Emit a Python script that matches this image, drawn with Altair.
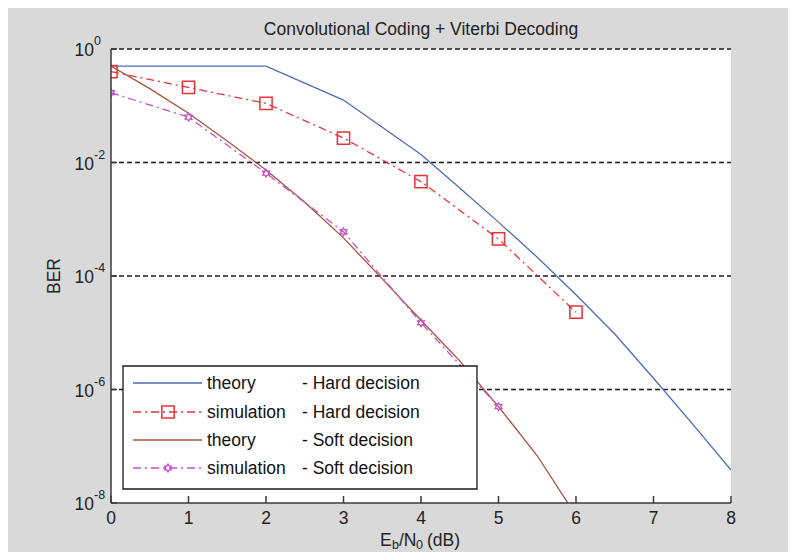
import altair as alt
import pandas as pd
import numpy as np

# ---------------- data ----------------
ebn0_theory_hard = [0, 0.5, 1, 1.5, 2, 2.5, 3, 3.5, 4, 4.5, 5, 5.5, 6, 6.5, 7, 7.5, 8]
ber_theory_hard = [0.5, 0.5, 0.5, 0.5, 0.5, 0.25, 0.126, 0.0417, 0.0138, 3.55e-3, 8.9e-4,
                   2.14e-4, 4.68e-5, 9.5e-6, 1.58e-6, 2.5e-7, 3.8e-8]

ebn0_theory_soft = [0, 0.5, 1, 1.5, 2, 2.5, 3, 3.5, 4, 4.5, 5, 5.5, 6]
ber_theory_soft = [0.5, 0.2, 0.074, 0.024, 7.4e-3, 2.0e-3, 4.7e-4, 8.9e-5, 1.66e-5,
                   3.2e-6, 5.0e-7, 6.8e-8, 6.0e-9]

ebn0_sim_hard = [0, 1, 2, 3, 4, 5, 6]
ber_sim_hard = [0.4, 0.21, 0.11, 0.027, 4.6e-3, 4.5e-4, 2.3e-5]

ebn0_sim_soft = [0, 1, 2, 3, 4, 5]
ber_sim_soft = [0.17, 0.063, 6.5e-3, 6.0e-4, 1.5e-5, 5.0e-7]

y_tick_values = [1, 1e-2, 1e-4, 1e-6, 1e-8]
y_tick_exponents = ["0", "-2", "-4", "-6", "-8"]
grid_values = [1, 1e-2, 1e-4, 1e-6]
x_tick_values = [0, 1, 2, 3, 4, 5, 6, 7, 8]
x_tick_labels = ["0", "1", "2", "3", "4", "5", "6", "7", "8"]

title_text = "Convolutional Coding + Viterbi Decoding"
legend_col1 = ["theory", "simulation", "theory", "simulation"]
legend_col2 = ["- Hard decision", "- Hard decision", "- Soft decision", "- Soft decision"]

# ---------------- style ----------------
W, H = 620, 454
FONT = "Liberation Sans"
C_BLUE = "#4c6db4"
C_RED = "#e8333b"
C_BROWN = "#a8503f"
C_MAG = "#c44fc8"
AXIS_C = "#3a3a3a"
DASHDOT = [8, 4, 2, 4]

# hexagram path
pts = []
for k in range(12):
    ang = np.pi / 2 + k * np.pi / 6
    r = 1.0 if k % 2 == 0 else 0.58
    pts.append((r * np.cos(ang), -r * np.sin(ang)))
HEX = "M" + " L".join(f"{a:.3f},{b:.3f}" for a, b in pts) + " Z"

xs = alt.Scale(domain=[0, 8], nice=False, zero=False)
ys = alt.Scale(type="log", domain=[1e-8, 1], nice=False)


def X(f):
    return alt.X(f + ":Q", scale=xs, axis=None)


def Y(f):
    return alt.Y(f + ":Q", scale=ys, axis=None)


one = pd.DataFrame({"d": [0]})
layers = []

# gridlines
grid_df = pd.DataFrame({"v": grid_values})
layers.append(alt.Chart(grid_df).mark_rule(color="#1a1a1a", strokeWidth=1.4, strokeDash=[5, 3]).encode(
    y=Y("v"), x=alt.value(0), x2=alt.value(W)))

# curves
th = pd.DataFrame({"x": ebn0_theory_hard, "y": ber_theory_hard})
ts = pd.DataFrame({"x": ebn0_theory_soft, "y": ber_theory_soft})
sh = pd.DataFrame({"x": ebn0_sim_hard, "y": ber_sim_hard})
ss = pd.DataFrame({"x": ebn0_sim_soft, "y": ber_sim_soft})

layers.append(alt.Chart(th).mark_line(color=C_BLUE, strokeWidth=1.3, clip=True).encode(x=X("x"), y=Y("y")))
layers.append(alt.Chart(ts).mark_line(color=C_BROWN, strokeWidth=1.3, clip=True).encode(x=X("x"), y=Y("y")))
layers.append(alt.Chart(sh).mark_line(color=C_RED, strokeWidth=1.3, strokeDash=DASHDOT, clip=True).encode(x=X("x"), y=Y("y")))
layers.append(alt.Chart(sh).mark_point(shape="square", size=150, filled=False, color=C_RED, strokeWidth=1.5, opacity=1, clip=True).encode(x=X("x"), y=Y("y")))
layers.append(alt.Chart(ss).mark_line(color=C_MAG, strokeWidth=1.3, strokeDash=DASHDOT, clip=True).encode(x=X("x"), y=Y("y")))
layers.append(alt.Chart(ss).mark_point(shape=HEX, size=60, filled=False, color=C_MAG, strokeWidth=1.3, opacity=1, clip=True).encode(x=X("x"), y=Y("y")))

# legend box
layers.append(alt.Chart(one).mark_rect(fill="white", stroke="#1a1a1a", strokeWidth=1.3).encode(
    x=alt.value(12), x2=alt.value(366), y=alt.value(317), y2=alt.value(440)))
row_y = [334, 363, 391, 419]
row_col = [C_BLUE, C_RED, C_BROWN, C_MAG]
for i in range(4):
    kw = dict(color=row_col[i], strokeWidth=1.3)
    if i in (1, 3):
        kw["strokeDash"] = DASHDOT
    layers.append(alt.Chart(one).mark_rule(**kw).encode(
        x=alt.value(22), x2=alt.value(91), y=alt.value(row_y[i])))
    if i == 1:
        layers.append(alt.Chart(one).mark_point(shape="square", size=150, filled=False, color=C_RED, strokeWidth=1.5, opacity=1).encode(
            x=alt.value(57), y=alt.value(row_y[i])))
    if i == 3:
        layers.append(alt.Chart(one).mark_point(shape=HEX, size=60, filled=False, color=C_MAG, strokeWidth=1.3, opacity=1).encode(
            x=alt.value(57), y=alt.value(row_y[i])))
leg_df = pd.DataFrame({"row": list(range(4)), "c1": legend_col1, "c2": legend_col2})
for i in range(4):
    sub = leg_df[leg_df["row"] == i]
    layers.append(alt.Chart(sub).mark_text(font=FONT, fontSize=17.5, align="left", baseline="middle", color="#111").encode(
        text="c1:N", x=alt.value(96), y=alt.value(row_y[i] + 1)))
    layers.append(alt.Chart(sub).mark_text(font=FONT, fontSize=17.5, align="left", baseline="middle", color="#111").encode(
        text="c2:N", x=alt.value(191), y=alt.value(row_y[i] + 1)))

# axes lines
layers.append(alt.Chart(one).mark_rule(color=AXIS_C, strokeWidth=1.5).encode(
    x=alt.value(0), y=alt.value(0), y2=alt.value(H)))
layers.append(alt.Chart(one).mark_rule(color=AXIS_C, strokeWidth=1.5).encode(
    x=alt.value(0), x2=alt.value(W), y=alt.value(H)))

# x ticks (inward) and labels
xt = pd.DataFrame({"v": x_tick_values, "lab": x_tick_labels})
layers.append(alt.Chart(xt).mark_rule(color=AXIS_C, strokeWidth=1.5).encode(
    x=X("v"), y=alt.value(H - 7), y2=alt.value(H)))
layers.append(alt.Chart(xt).mark_text(font=FONT, fontSize=17.5, baseline="middle", align="center", color="#222").encode(
    x=X("v"), y=alt.value(H + 16), text="lab:N"))

# y ticks (inward) and labels 10^n
yt = pd.DataFrame({"v": y_tick_values, "e": y_tick_exponents, "base": ["10"] * 5})
layers.append(alt.Chart(yt).mark_rule(color=AXIS_C, strokeWidth=1.5).encode(
    y=Y("v"), x=alt.value(0), x2=alt.value(6)))
layers.append(alt.Chart(yt).mark_text(font=FONT, fontSize=17.5, baseline="middle", align="right", dy=2, color="#222").encode(
    y=Y("v"), x=alt.value(-17), text="base:N"))
layers.append(alt.Chart(yt).mark_text(font=FONT, fontSize=12.5, baseline="middle", align="left", dy=-8, color="#222").encode(
    y=Y("v"), x=alt.value(-17), text="e:N"))

# titles
ttl = pd.DataFrame({"t": [title_text]})
layers.append(alt.Chart(ttl).mark_text(font=FONT, fontSize=17.5, align="center", baseline="alphabetic", color="#222").encode(
    x=alt.value(W / 2), y=alt.value(-14), text="t:N"))
ber = pd.DataFrame({"t": ["BER"]})
layers.append(alt.Chart(ber).mark_text(font=FONT, fontSize=17.5, align="center", baseline="middle", angle=270, color="#222").encode(
    x=alt.value(-56), y=alt.value(H / 2), text="t:N"))

xparts = [("E", 17.5, 269, 0), ("b", 12.5, 281, 4), ("/N", 17.5, 288, 0), ("0", 12.5, 305, 4), ("(dB)", 17.5, 316, 0)]
for txt, fs, px, dy in xparts:
    d = pd.DataFrame({"t": [txt]})
    layers.append(alt.Chart(d).mark_text(font=FONT, fontSize=fs, align="left", baseline="middle", dy=dy, color="#222").encode(
        x=alt.value(px), y=alt.value(H + 38), text="t:N"))

chart = alt.layer(*layers).properties(
    width=W, height=H,
    autosize=alt.AutoSizeParams(type="none"),
    padding={"left": 103, "top": 41, "right": 57, "bottom": 49},
    background="#d9d9d9",
).configure_view(stroke=None, fill="white")

chart.save("out.html", embed_options={"renderer": "svg", "actions": False})
